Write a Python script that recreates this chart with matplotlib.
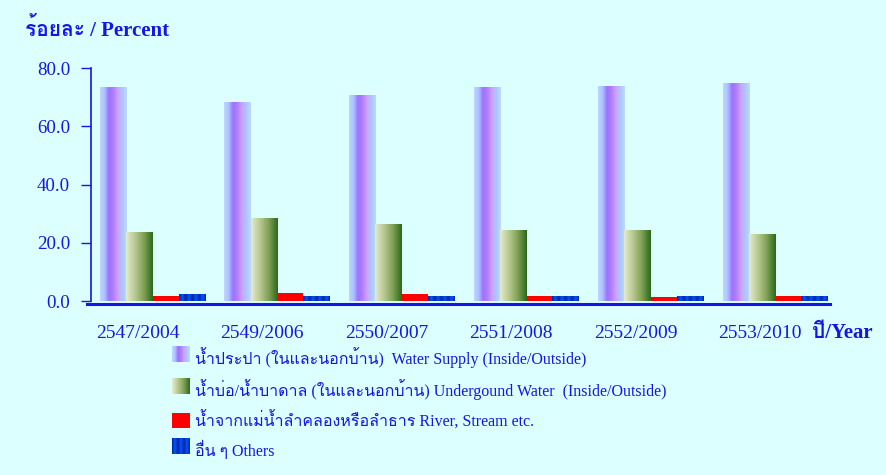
import numpy as np
import matplotlib
matplotlib.use("Agg")
import matplotlib.pyplot as plt
from matplotlib import font_manager
from matplotlib.ft2font import FT2Font
from matplotlib.colors import LinearSegmentedColormap
from matplotlib.legend_handler import HandlerBase
from matplotlib.image import BboxImage
from matplotlib.transforms import Bbox, TransformedBbox
from matplotlib.patches import Patch

years = ["2547/2004", "2549/2006", "2550/2007", "2551/2008", "2552/2009", "2553/2010"]
water_supply = [73.4, 68.2, 70.6, 73.4, 73.7, 74.8]
underground = [23.7, 28.2, 26.4, 24.3, 24.3, 23.0]
river = [1.6, 2.7, 2.3, 1.7, 1.3, 1.6]
others = [2.4, 1.7, 1.4, 1.7, 1.7, 1.4]
series_labels = [
    "น้ำประปา (ในและนอกบ้าน)  Water Supply (Inside/Outside)",
    "น้ำบ่อ/น้ำบาดาล (ในและนอกบ้าน) Undergound Water  (Inside/Outside)",
    "น้ำจากแม่น้ำลำคลองหรือลำธาร River, Stream etc.",
    "อื่น ๆ Others",
]


# find some font with thai glyphs, fall back to serif
def thai_font():
    for f in font_manager.fontManager.ttflist:
        try:
            if ord("ก") in FT2Font(f.fname).get_charmap():
                return f.name
        except Exception:
            pass
    return None


thai = thai_font()
fams = ["Liberation Serif"] + ([thai] if thai else []) + ["DejaVu Sans"]
plt.rcParams["font.family"] = fams

BG = "#dcffff"
BLUE = "#1515e8"

purple_cm = LinearSegmentedColormap.from_list(
    "pur", ["#c4d4ff", "#a8c4ff", "#a070ff", "#b080ff", "#d0a0ff", "#a8c8ff", "#c0d8ff"])
green_cm = LinearSegmentedColormap.from_list("grn", ["#e2ecce", "#b8c890", "#7fa055", "#2c6a1c"])
stripe_cm = LinearSegmentedColormap.from_list("str", ["#0028b0", "#0058f8", "#0028b0"])

grad = np.linspace(0, 1, 64).reshape(1, -1)
stripes = np.tile(np.linspace(0, 1, 8), 4).reshape(1, -1)

fig = plt.figure(figsize=(8.87, 4.75), dpi=100, facecolor=BG)
ax = fig.add_axes([0.1026, 0.3663, 0.833, 0.4899], facecolor=BG)

x = np.arange(len(years))
w = 0.211
series = [water_supply, underground, river, others]
fills = [(purple_cm, grad), (green_cm, grad), (None, None), (stripe_cm, stripes)]

for k, (vals, (cm, img)) in enumerate(zip(series, fills)):
    offs = x - 1.5 * w + k * w
    if cm is None:
        ax.bar(offs, vals, width=w, color="#ff0000", linewidth=0)
        continue
    bars = ax.bar(offs, vals, width=w, color="none", linewidth=0)
    for b in bars:
        x0, h = b.get_x(), b.get_height()
        ax.imshow(img, cmap=cm, aspect="auto", interpolation="bilinear",
                  extent=[x0, x0 + w, 0, h], zorder=2)

ax.set_xlim(-0.494, 5.44)
ax.set_ylim(0, 80)
ax.set_yticks([0, 20, 40, 60, 80])
ax.set_yticklabels([f"{v:.1f}" for v in [0, 20, 40, 60, 80]])
ax.set_xticks(x - 0.12)
ax.set_xticklabels(years)
ax.tick_params(axis="x", length=0, pad=17, labelsize=14, labelcolor=BLUE)
ax.tick_params(axis="y", length=7, width=1, color=BLUE, labelsize=13.6, labelcolor=BLUE, pad=8)
for s in ["top", "right", "bottom"]:
    ax.spines[s].set_visible(False)
ax.spines["left"].set_color(BLUE)
ax.spines["left"].set_linewidth(1.2)
ax.plot([-0.006, 1.0], [-0.014, -0.014], transform=ax.transAxes, color=BLUE,
        lw=2.2, clip_on=False)

fig.text(0.028, 0.937, "ร้อยละ / Percent", fontsize=15, fontweight="bold", color=BLUE, va="center")
fig.text(0.915, 0.299, "ปี/Year", fontsize=15, fontweight="bold", color=BLUE, va="center")


class GradientHandler(HandlerBase):
    def __init__(self, cm, img):
        super().__init__()
        self.cm, self.img = cm, img

    def legend_artist(self, legend, orig_handle, fontsize, handlebox):
        bb = Bbox.from_bounds(handlebox.xdescent, handlebox.ydescent,
                              handlebox.width, handlebox.height)
        im = BboxImage(TransformedBbox(bb, handlebox.get_transform()),
                       cmap=self.cm, interpolation="bilinear")
        im.set_data(self.img)
        handlebox.add_artist(im)
        return im


handles = [Patch(label=l) for l in series_labels]
handles[2] = Patch(facecolor="#ff0000", label=series_labels[2])
leg = fig.legend(
    handles, series_labels, loc="upper left", bbox_to_anchor=(0.178, 0.300),
    frameon=False, fontsize=11.5, labelcolor=BLUE, handlelength=1.1,
    handleheight=1.1, handletextpad=0.3, labelspacing=0.69,
    handler_map={handles[0]: GradientHandler(purple_cm, grad),
                 handles[1]: GradientHandler(green_cm, grad),
                 handles[3]: GradientHandler(stripe_cm, np.tile(np.linspace(0, 1, 8), 3).reshape(1, -1))},
)

fig.savefig("out.png", dpi=100, facecolor=BG)
